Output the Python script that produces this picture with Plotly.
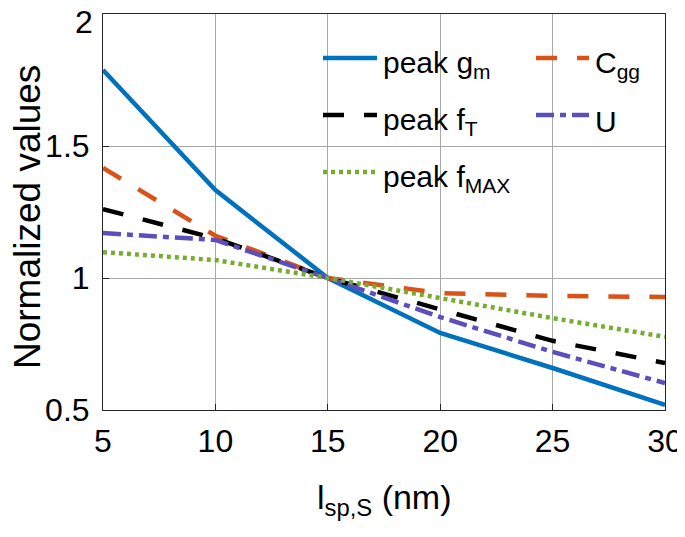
import plotly.graph_objects as go

x_vals = [5, 10, 15, 20, 25, 30]
peak_gm = [1.788, 1.333, 1.0, 0.792, 0.659, 0.519]
cgg = [1.417, 1.160, 1.0, 0.943, 0.932, 0.928]
peak_ft = [1.261, 1.150, 1.0, 0.879, 0.762, 0.678]
u_vals = [1.170, 1.144, 1.0, 0.852, 0.720, 0.602]
peak_fmax = [1.098, 1.068, 1.0, 0.924, 0.848, 0.777]

y_ticks = [0.5, 1, 1.5, 2]
y_ticktext = ["0.5", "1", "1.5", "2"]
x_ticks = [5, 10, 15, 20, 25, 30]

x_title = "l<sub>sp,S</sub> (nm)"
y_title = "Normalized values"

FONT = "Liberation Sans, Arial, sans-serif"
OFF = 8  # default page body margin
W, H = 685 - OFF, 537 - OFF
ML, MR, MT, MB = 103 - OFF, 20, 14 - OFF, 127
PW, PH = W - ML - MR, H - MT - MB


def px(xw):
    return (xw - OFF - ML) / PW


def py(yw):
    return (H - MB - (yw - OFF)) / PH


series = [
    ("peak g<sub>m</sub>", peak_gm, "#0072BD", "solid"),
    ("C<sub>gg</sub>", cgg, "#D95319", "21px,20px"),
    ("peak f<sub>T</sub>", peak_ft, "#000000", "21px,20px"),
    ("U", u_vals, "#5B4FBD", "18px,6px,6px,6px"),
    ("peak f<sub>MAX</sub>", peak_fmax, "#77AC30", "4px,4px"),
]
# legend slots (layout only, window pixels): line x0, x1, y ; text x
slots = [
    (323, 377, 58, 381),
    (536, 589, 58, 593),
    (323, 377, 115, 381),
    (536, 589, 115, 593),
    (323, 377, 172, 381),
]

fig = go.Figure()
for (name, ys, col, dash), (lx0, lx1, ly, tx) in zip(series, slots):
    fig.add_trace(go.Scatter(
        x=x_vals, y=ys, mode="lines", name=name, showlegend=False,
        line=dict(color=col, width=4.5, dash=dash),
    ))
    fig.add_shape(type="line", xref="paper", yref="paper",
                  x0=px(lx0), x1=px(lx1), y0=py(ly), y1=py(ly),
                  line=dict(color=col, width=4.5, dash=dash))
    fig.add_annotation(xref="paper", yref="paper", x=px(tx), y=py(ly),
                       text=name, showarrow=False, xanchor="left",
                       yanchor="middle", yshift=-6,
                       font=dict(size=30, family=FONT, color="black"))

# top y tick label sits just below the axis top (as in the reference)
tick_text_y = [t if v != y_ticks[-1] else "" for v, t in zip(y_ticks, y_ticktext)]
fig.add_annotation(xref="paper", yref="y", x=0, y=y_ticks[-1], text=y_ticktext[-1],
                   showarrow=False, xanchor="right", yanchor="middle",
                   xshift=-8, yshift=-8,
                   font=dict(size=32, family=FONT, color="black"))

# axis titles
fig.add_annotation(xref="paper", yref="paper", x=px(27), y=py(217), text=y_title,
                   textangle=-90, showarrow=False, xanchor="center", yanchor="middle",
                   font=dict(size=37, family=FONT, color="black"))
fig.add_annotation(xref="paper", yref="paper", x=px(384), y=py(476), text=x_title,
                   showarrow=False, xanchor="center", yanchor="top",
                   font=dict(size=34, family=FONT, color="black"))

axis_common = dict(
    showgrid=True, gridcolor="#a8a8a8", gridwidth=1,
    showline=True, linecolor="#262626", linewidth=1, mirror=True,
    ticks="inside", ticklen=6, tickcolor="#262626",
    tickfont=dict(size=32, family=FONT, color="black"),
    ticklabeloverflow="allow", zeroline=False, automargin=False,
)

fig.update_layout(
    width=W, height=H,
    margin=dict(l=ML, r=MR, t=MT, b=MB, autoexpand=False),
    paper_bgcolor="white", plot_bgcolor="white",
    font=dict(family=FONT, size=26, color="black"),
    xaxis=dict(
        range=[5, 30], tickvals=x_ticks, ticktext=[str(v) for v in x_ticks],
        ticklabelstandoff=3,
        **axis_common,
    ),
    yaxis=dict(
        range=[0.5, 2], tickvals=y_ticks, ticktext=tick_text_y,
        ticklabelstandoff=6,
        **axis_common,
    ),
)

fig.write_html("out.html")
